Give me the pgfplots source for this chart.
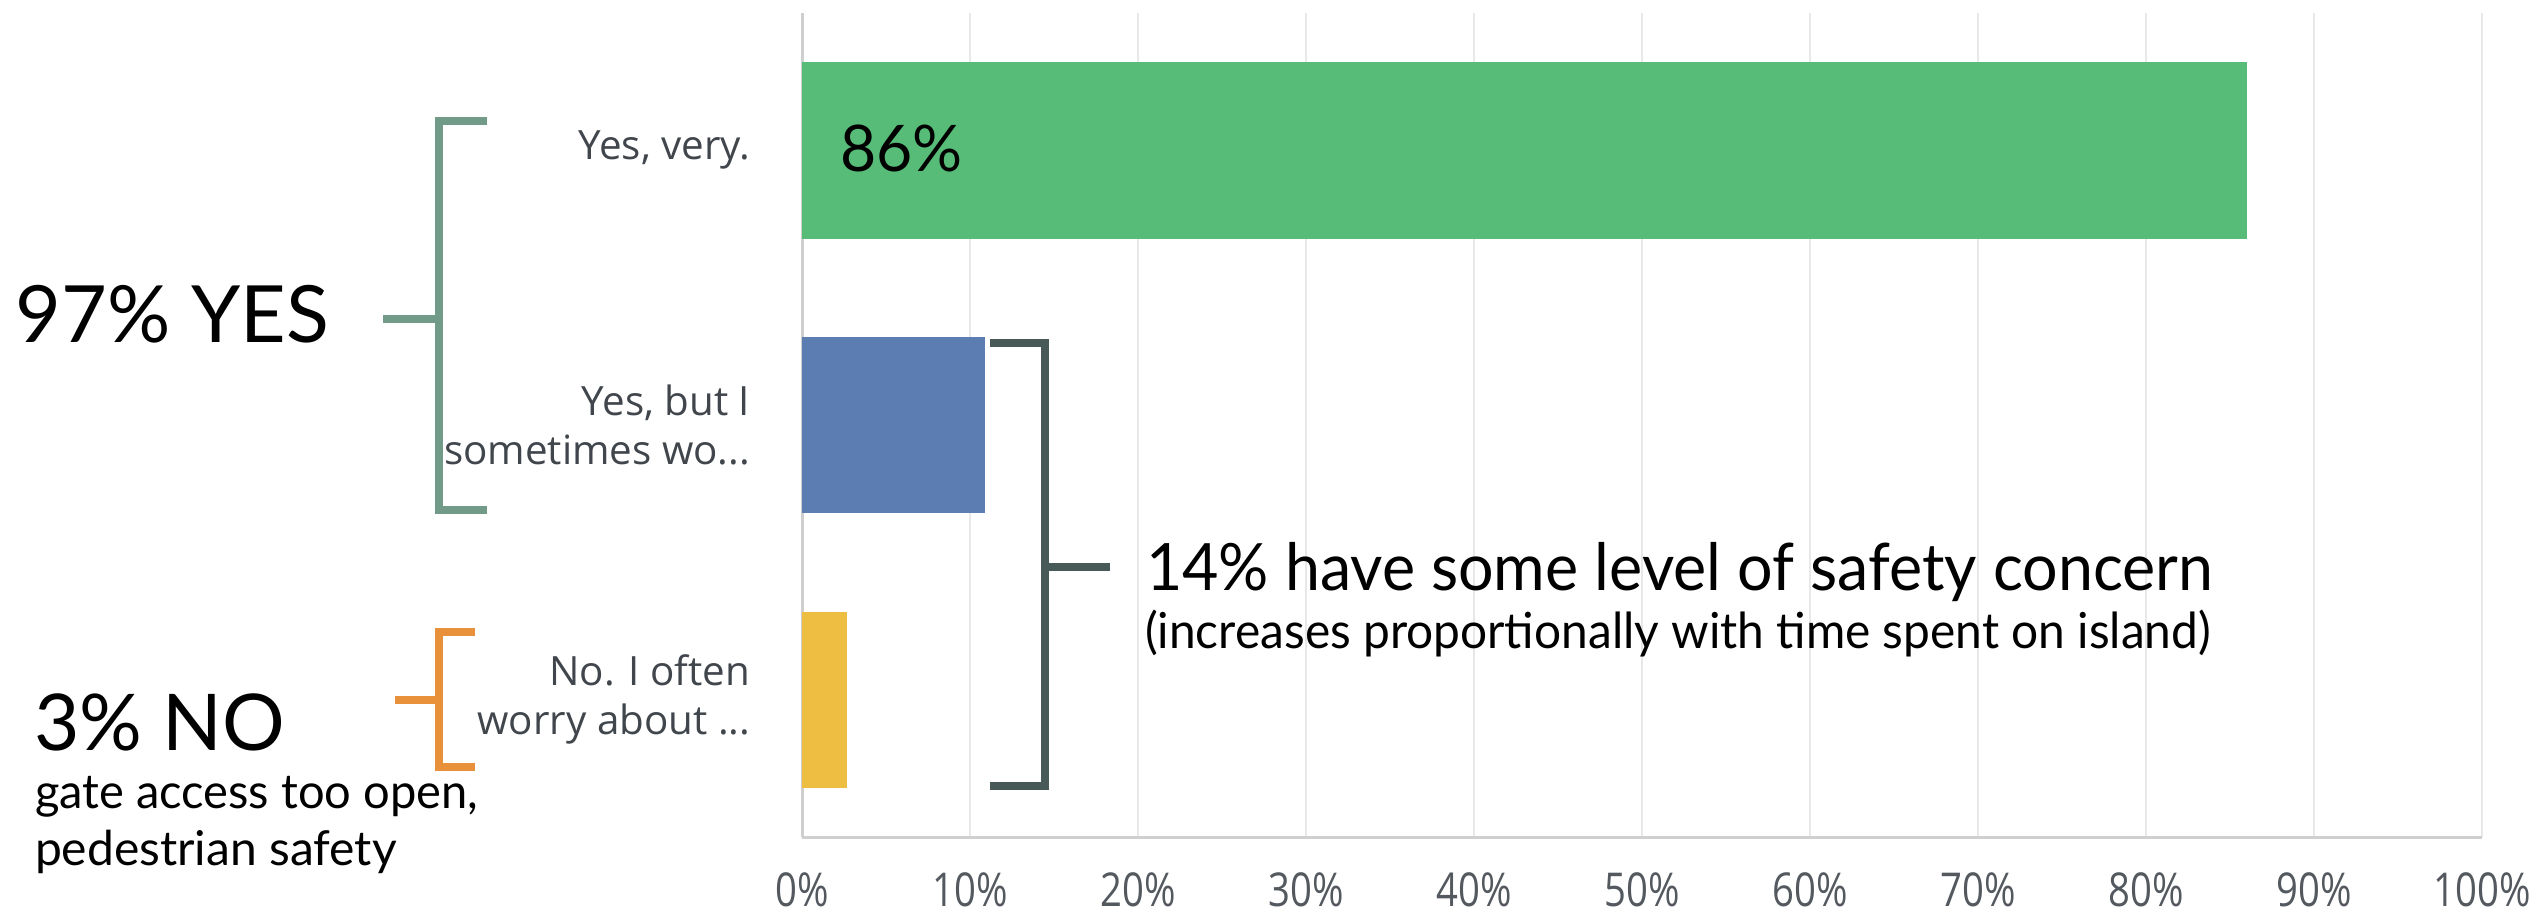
\documentclass[border=0pt]{standalone}
\usepackage{graphicx}
\usepackage{pgfplots}
\pgfplotsset{compat=1.18}
\usepackage{fontspec}
\setmainfont{Lato}
\newfontfamily\osans{Open Sans}
\definecolor{barG}{HTML}{57BC78}
\definecolor{barB}{HTML}{5B7DB2}
\definecolor{barY}{HTML}{EDBE42}
\definecolor{brG}{HTML}{729A89}
\definecolor{brO}{HTML}{E8913A}
\definecolor{brD}{HTML}{475A58}
\definecolor{catT}{HTML}{40464C}
\definecolor{tickT}{HTML}{53595F}
\definecolor{gridC}{HTML}{E8E8E8}
\definecolor{axC}{HTML}{CFCFCF}
\newcommand{\tdots}{...}
\newcommand{\tl}[1]{\scalebox{0.82}[1]{#1\%}}
\begin{document}
\begin{tikzpicture}
\useasboundingbox (0,0) rectangle (763.5pt,-273.9pt);
\begin{axis}[
  at={(240.6pt,-251.1pt)}, anchor=south west,
  scale only axis, width=504pt, height=247.2pt,
  xbar, bar width=0.642, bar shift=0pt,
  xmin=0, xmax=100, ymin=-0.5, ymax=2.5,
  xtick={0,10,20,30,40,50,60,70,80,90,100},
  xticklabels={\tl{0},\tl{10},\tl{20},\tl{30},\tl{40},\tl{50},\tl{60},\tl{70},\tl{80},\tl{90},\tl{100}},
  ytick={0,1,2},
  yticklabels={{No. I often\\worry about \tdots},{Yes, but I\\sometimes wo\tdots},{Yes, very.}},
  major tick length=0pt,
  xmajorgrids, grid style={gridC, line width=0.8pt},
  axis x line*=bottom, axis y line*=left,
  axis line style={axC, line width=0.9pt},
  x tick label style={font=\osans\fontsize{14}{16}\selectfont, text=tickT, inner sep=0pt, yshift=-10.5pt},
  y tick label style={font=\osans\fontsize{12.1}{14.7}\selectfont, text=catT, align=right, xshift=-12pt},
]
\addplot[fill=barY, draw=none] coordinates {(2.7,0)};
\addplot[fill=barB, draw=none] coordinates {(10.9,1)};
\addplot[fill=barG, draw=none] coordinates {(86,2)};
\end{axis}
\begin{scope}[x=0.3pt, y=-0.3pt, line width=2.4pt]
\draw[brG] (487,121) -- (439,121) -- (439,510) -- (487,510);
\draw[brG] (383,319) -- (439,319);
\draw[brO] (475,632) -- (439,632) -- (439,767) -- (475,767);
\draw[brO] (395,700) -- (439,700);
\draw[brD] (990,343) -- (1045,343) -- (1045,786) -- (990,786);
\draw[brD] (1045,567) -- (1110,567);
\node[anchor=base west, inner sep=0pt, font=\fontsize{23.7}{28}\selectfont] at (12,342) {97\% YES};
\node[anchor=base west, inner sep=0pt, font=\fontsize{23.5}{28}\selectfont] at (30,750) {3\% NO};
\node[anchor=base west, inner sep=0pt, font=\fontsize{14.4}{17.1}\selectfont] at (31,808) {\scalebox{0.98}[1]{gate access too open,}};
\node[anchor=base west, inner sep=0pt, font=\fontsize{14.4}{17.1}\selectfont] at (31,865) {pedestrian safety};
\node[anchor=base west, inner sep=0pt, font=\fontsize{19.3}{23}\selectfont] at (836,171) {\scalebox{0.97}[1]{86\%}};
\node[anchor=base west, inner sep=0pt, font=\fontsize{19.6}{23}\selectfont] at (1142,590) {\scalebox{0.96}[1]{14\% have some level of safety concern}};
\node[anchor=base west, inner sep=0pt, font=\fontsize{14.9}{17.1}\selectfont] at (1141,648) {\scalebox{0.963}[1]{(increases proportionally with time spent on island)}};
\end{scope}
\end{tikzpicture}
\end{document}
